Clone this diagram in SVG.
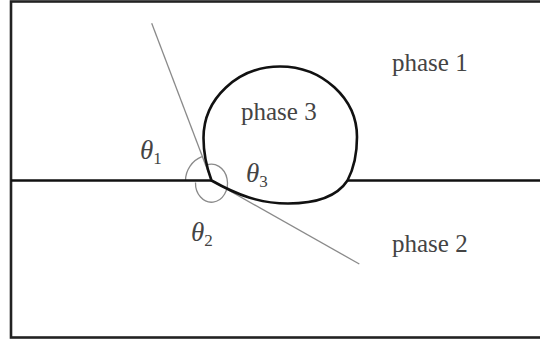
<svg xmlns="http://www.w3.org/2000/svg" width="540" height="341" viewBox="0 0 540 341">
<style>
.frame{fill:none;stroke:#222;stroke-width:2.6}
.bold{fill:none;stroke:#111;stroke-width:2.6}
.thin{fill:none;stroke:#8a8a8a;stroke-width:1.3}
.lbl{font-family:"Liberation Serif","DejaVu Serif",serif;font-size:25px;fill:#444}
.th{font-style:italic;font-size:27px}
.sub{font-size:17px;font-style:normal}
</style>
<rect width="540" height="341" fill="#fff"/>
<rect class="frame" x="11" y="1.5" width="545" height="336"/>
<g id="connectors">
<line class="thin" x1="151.7" y1="23.3" x2="211.5" y2="180.5"/>
<line class="thin" x1="211.5" y1="180.5" x2="359.3" y2="264"/>
<path class="thin" d="M201.9,156.7 A26,26 0 0 0 185.5,180.5"/>
<path class="thin" d="M205.7,165.5 A16,19 0 1 1 195.5,182.5"/>
<line class="bold" x1="11" y1="180.5" x2="211.5" y2="180.5"/>
<line class="bold" x1="347.5" y1="180.5" x2="540" y2="180.5"/>
</g>
<g id="drop">
<path class="bold" d="M211.5,180.5 C207.3,169.3 203.5,152 203.5,138 C203.5,98.5 237.8,66.5 280,66.5 C322.2,66.5 357,98.5 357,137 C357,155 353,170 347.5,180.5 C338,195 318,203.5 288,203.5 C260,203.5 237.6,195.2 211.5,180.5 Z"/>
</g>
<g id="phase1"><text class="lbl" x="392" y="71">phase 1</text></g>
<g id="phase2"><text class="lbl" x="392" y="252">phase 2</text></g>
<g id="phase3"><text class="lbl" x="241" y="120">phase 3</text></g>
<g id="theta1"><text class="lbl th" x="140" y="159">θ<tspan class="sub" dy="5">1</tspan></text></g>
<g id="theta2"><text class="lbl th" x="191" y="241">θ<tspan class="sub" dy="5">2</tspan></text></g>
<g id="theta3"><text class="lbl th" x="246" y="182">θ<tspan class="sub" dy="5">3</tspan></text></g>
</svg>
